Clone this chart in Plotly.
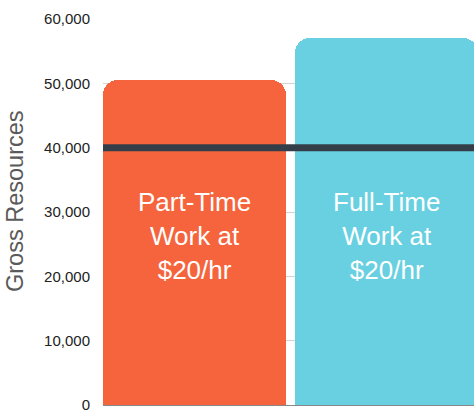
import plotly.graph_objects as go

categories = ["Part-Time Work at $20/hr", "Full-Time Work at $20/hr"]
labels = ["Part-Time<br>Work at<br>$20/hr", "Full-Time<br>Work at<br>$20/hr"]
values = [50500, 57000]
colors = ["#F5643C", "#69D0E1"]
threshold = 40000
y_ticks = [0, 10000, 20000, 30000, 40000, 50000, 60000]
y_title = "Gross Resources"
label_y = 26300

x_pos = list(range(len(categories)))

fig = go.Figure()
fig.add_trace(go.Bar(
    x=x_pos, y=values, width=0.953,
    marker=dict(color=colors, cornerradius=15, line=dict(width=0)),
    hovertext=categories, showlegend=False,
))

for xp, lab in zip(x_pos, labels):
    fig.add_annotation(x=xp, y=label_y, text=lab, showarrow=False,
                       xanchor="center", yanchor="middle",
                       font=dict(family="Liberation Sans, Arial", size=26, color="white"))

fig.add_annotation(xref="paper", yref="paper", x=0, xshift=-88, y=0.5285,
                   text=y_title, textangle=-90, showarrow=False,
                   xanchor="center", yanchor="middle",
                   font=dict(family="Liberation Sans, Arial", size=23.5, color="#5A5A5A"))

fig.add_shape(type="line", xref="paper", x0=0, x1=1, yref="y", y0=threshold, y1=threshold,
              line=dict(color="#343E48", width=7), layer="above")

fig.update_layout(
    width=474, height=410,
    margin=dict(l=103, r=0, t=19, b=5, autoexpand=False),
    plot_bgcolor="white", paper_bgcolor="white",
    font=dict(family="Liberation Sans, Arial", color="#222222"),
    xaxis=dict(range=[-0.4766, 1.4557], showticklabels=False, showgrid=False,
               zeroline=False, showline=False, ticks="", automargin=False),
    yaxis=dict(range=[0, 60000], tickvals=y_ticks,
               ticktext=[f"{v:,}" for v in y_ticks],
               tickfont=dict(family="Liberation Sans, Arial", size=15, color="#222222"),
               ticklabeloverflow="allow", automargin=False,
               showgrid=True, gridcolor="#D3D3D3", gridwidth=1,
               zeroline=True, zerolinecolor="#888888", zerolinewidth=1,
               ticks="", ticklabelstandoff=12),
    bargap=0,
)

fig.write_html("out.html")
